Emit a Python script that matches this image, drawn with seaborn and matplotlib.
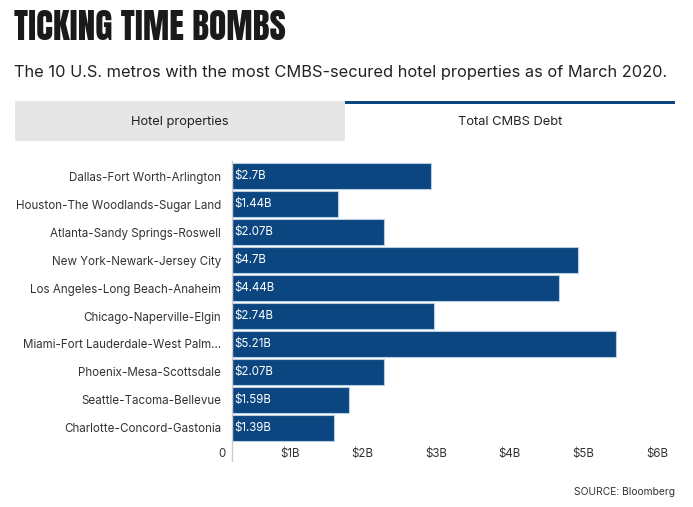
import matplotlib
matplotlib.use("Agg")
import matplotlib.pyplot as plt
import matplotlib.transforms as mtransforms
from matplotlib.patches import Rectangle
import seaborn as sns
import pandas as pd

# ---- data ----
metros = [
    "Dallas-Fort Worth-Arlington",
    "Houston-The Woodlands-Sugar Land",
    "Atlanta-Sandy Springs-Roswell",
    "New York-Newark-Jersey City",
    "Los Angeles-Long Beach-Anaheim",
    "Chicago-Naperville-Elgin",
    "Miami-Fort Lauderdale-West Palm\u2026",
    "Phoenix-Mesa-Scottsdale",
    "Seattle-Tacoma-Bellevue",
    "Charlotte-Concord-Gastonia",
]
debt_billions = [2.7, 1.44, 2.07, 4.7, 4.44, 2.74, 5.21, 2.07, 1.59, 1.39]
value_labels = ["$2.7B", "$1.44B", "$2.07B", "$4.7B", "$4.44B",
                "$2.74B", "$5.21B", "$2.07B", "$1.59B", "$1.39B"]
x_ticks = [0, 1, 2, 3, 4, 5, 6]
x_tick_labels = ["0", "$1B", "$2B", "$3B", "$4B", "$5B", "$6B"]
tabs = ["Hotel properties", "Total CMBS Debt"]
title = "TICKING TIME BOMBS"
subtitle = "The 10 U.S. metros with the most CMBS-secured hotel properties as of March 2020."
source = "SOURCE: Bloomberg"

df = pd.DataFrame({"metro": metros, "debt": debt_billions})

sns.set_theme(style="white")
plt.rcParams["font.family"] = ["Inter", "DejaVu Sans"]

W, H = 693, 507
fig = plt.figure(figsize=(W / 100, H / 100), dpi=100)

def fx(px):
    return px / W

def fy(py):
    return 1 - py / H

BLUE = "#0b4680"
TEXT = "#222222"

# title / subtitle
fig.text(fx(14), fy(27), title, ha="left", va="center", fontsize=25.5,
         family=["Anton", "DejaVu Sans"], color="#1a1a1a")
fig.text(fx(14), fy(72), subtitle, ha="left", va="center", fontsize=11.8, color=TEXT)

# tabs
fig.patches.append(Rectangle((fx(15), fy(141)), fx(345) - fx(15), fy(101) - fy(141),
                             transform=fig.transFigure, facecolor="#e6e6e6",
                             edgecolor="none", zorder=0))
fig.patches.append(Rectangle((fx(345), fy(104)), fx(675) - fx(345), fy(101) - fy(104),
                             transform=fig.transFigure, facecolor=BLUE,
                             edgecolor="none", zorder=1))
fig.text(fx(180), fy(122), tabs[0], ha="center", va="center", fontsize=9.3, color=TEXT)
fig.text(fx(510), fy(122), tabs[1], ha="center", va="center", fontsize=9.3, color=TEXT)

# source
fig.text(fx(675), fy(492), source, ha="right", va="center", fontsize=7.4, color="#333333")

# axes
ax_left, ax_right, ax_top, ax_bottom = 232, 674, 161, 461
ax = fig.add_axes([fx(ax_left), fy(ax_bottom), fx(ax_right) - fx(ax_left),
                   fy(ax_top) - fy(ax_bottom)])

sns.barplot(data=df, x="debt", y="metro", orient="h", color=BLUE, saturation=1,
            width=0.92, edgecolor="#b9cde3", linewidth=0.8, ax=ax)

row_px = 28.0
first_center = 176.0
ax.set_xlim(0, 6)
ax.set_ylim((ax_bottom - first_center) / row_px, -(first_center - ax_top) / row_px)

for s in ["top", "right", "bottom"]:
    ax.spines[s].set_visible(False)
ax.spines["left"].set_color("#cccccc")
ax.spines["left"].set_linewidth(1.0)

ax.set_xlabel("")
ax.set_ylabel("")
ax.set_xticks([])
ax.tick_params(axis="y", length=0, pad=8, labelsize=8.35, labelcolor="#333333")

# value labels inside bars
off_val = mtransforms.offset_copy(ax.transData, fig=fig, x=2, y=0, units="dots")
for i, lab in enumerate(value_labels):
    ax.text(0, i, lab, ha="left", va="center", fontsize=8.3, color="white",
            transform=off_val)

# x tick labels (right aligned just left of tick position)
blend = mtransforms.blended_transform_factory(ax.transData, ax.transAxes)
off_tick = mtransforms.offset_copy(blend, fig=fig, x=-6, y=0, units="dots")
for v, lab in zip(x_ticks, x_tick_labels):
    ax.text(v, (ax_bottom - 454) / (ax_bottom - ax_top), lab, ha="right", va="center",
            fontsize=8.3, color="#333333", transform=off_tick)

fig.savefig("out.png", dpi=100)
